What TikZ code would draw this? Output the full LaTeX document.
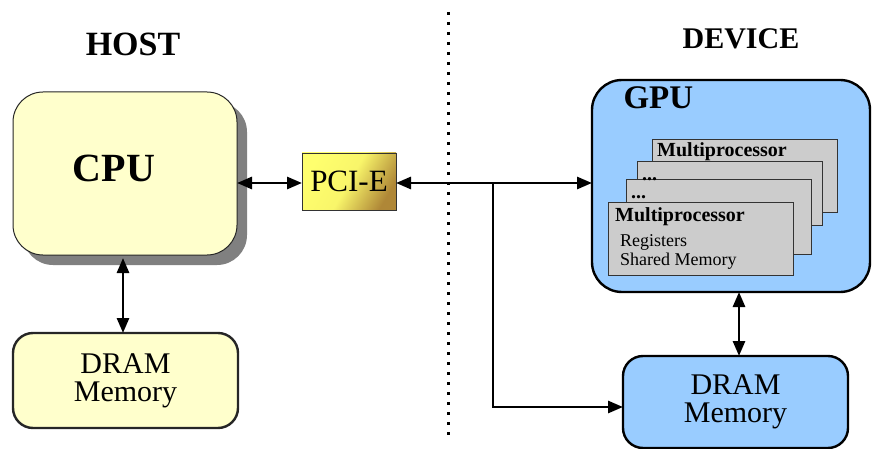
\documentclass[tikz,border=0pt]{standalone}
\usepackage{fontspec}
\setmainfont{Liberation Serif}
\usetikzlibrary{arrows.meta,shadows}

\definecolor{hostfill}{RGB}{255,255,204}
\definecolor{devfill}{RGB}{153,204,255}
\definecolor{mpfill}{RGB}{204,204,204}
\definecolor{pcilight}{RGB}{255,255,110}
\definecolor{pcidark}{RGB}{175,135,55}

\tikzset{
    tip/.tip={Triangle[length=15pt,width=12pt]},
    bus/.style={line width=2.8pt,-tip},
    dbus/.style={line width=2.8pt,tip-tip},
    hostbox/.style={draw=black!85,fill=hostfill,inner sep=0pt,outer sep=0pt},
    devbox/.style={draw=black,line width=2.4pt,fill=devfill,inner sep=0pt,outer sep=0pt},
    mpbox/.style={draw=black!80,line width=0.8pt,fill=mpfill,inner sep=0pt,outer sep=0pt,
                  minimum width=185pt,minimum height=73pt},
    fsz/.style={font=\fontsize{#1}{#1}\selectfont},
    fszb/.style={font=\fontsize{#1}{#1}\selectfont\bfseries}
}

\begin{document}
\begin{tikzpicture}[x=1pt,y=-1pt]
        \useasboundingbox (0,0) rectangle (872,449);

        % titles
        \node (host) [fszb=34,anchor=base] at (133,56) {HOST};
        \node (device) [fszb=30,anchor=base] at (741,49) {DEVICE};
        \draw [line width=3pt,dash pattern=on 3pt off 7pt] (448,12) -- (448,440);

        % host side
        \node (cpu) [hostbox,line width=1pt,rounded corners=30pt,
                     minimum width=224pt,minimum height=163pt,
                     drop shadow={shadow xshift=10pt,shadow yshift=-10pt,fill=black!50,opacity=1}]
              at (125,173.5) {};
        \node [fszb=40,anchor=base] at (114,182) {CPU};
        \node (hdram) [hostbox,line width=2.4pt,rounded corners=20pt,
                       minimum width=225pt,minimum height=95pt,
                       align=center,fsz=30] at (125.5,380.5) {DRAM\\[-2pt]Memory};

        \node (pci) [draw=black!80,line width=0.8pt,inner sep=0pt,outer sep=0pt,
                     minimum width=94pt,minimum height=57pt,
                     left color=pcilight,right color=pcidark,middle color=pcilight!92!pcidark,
                     shading angle=60,fsz=31] at (349,181.5) {PCI-E};

        % device side
        \node (gpu) [devbox,rounded corners=30pt,minimum width=278pt,minimum height=212pt]
              at (731,186) {};
        \node [fszb=33,anchor=base west] at (620,109) {GPU};

        \node (mp1) [mpbox,anchor=north west] at (652,139) {};
        \node (mp2) [mpbox,anchor=north west,minimum height=64pt] at (637,161) {};
        \node (mp3) [mpbox,anchor=north west,minimum height=75pt] at (626,179) {};
        \node (mp4) [mpbox,anchor=north west] at (608,202) {};
        \node [fszb=20,anchor=base west,inner sep=0pt] at (657,157) {Multiprocessor};
        \node [fszb=20,anchor=base west,inner sep=0pt] at (642,181) {...};
        \node [fszb=20,anchor=base west,inner sep=0pt] at (631,199) {...};
        \node [fszb=20,anchor=base west,inner sep=0pt] at (615,221) {Multiprocessor};
        \node [fsz=18,anchor=base west,inner sep=0pt] at (620,246) {Registers};
        \node [fsz=18,anchor=base west,inner sep=0pt] at (620,265) {Shared Memory};

        \node (ddram) [devbox,rounded corners=20pt,minimum width=225pt,minimum height=92pt,
                       align=center,fsz=30] at (735.5,402) {DRAM\\[-2pt]Memory};

        % connectors
        \coordinate (split) at (493,183);
        \draw [dbus] (cpu.east |- 0,183) -- (pci.west |- 0,183);
        \draw [dbus] (pci.east |- 0,183) -- (gpu.west |- 0,183);
        \draw [bus] (split) |- ([yshift=-5pt]ddram.west);
        \draw [dbus,shorten <=3pt] (cpu.south -| 123,0) -- (hdram.north -| 123,0);
        \draw [dbus] (gpu.south -| 739,0) -- (ddram.north -| 739,0);
\end{tikzpicture}
\end{document}
